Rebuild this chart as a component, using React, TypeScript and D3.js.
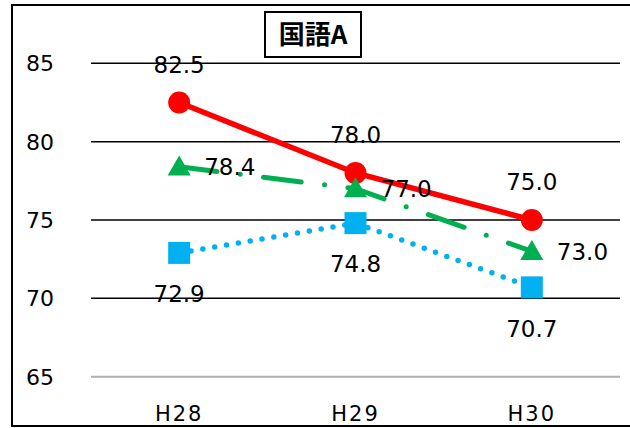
import React from "react";
import * as d3 from "d3";

const categories = ["H28", "H29", "H30"];
const redValues = [82.5, 78.0, 75.0];
const greenValues = [78.4, 77.0, 73.0];
const blueValues = [72.9, 74.8, 70.7];
const yTicks = [65, 70, 75, 80, 85];
const title = "国語A";

const W = 630;
const H = 428;
const FONT = "'DejaVu Sans', 'Noto Sans', sans-serif";
const CJK = "'Noto Sans CJK JP', sans-serif";

export default function App() {
  const x = d3.scaleBand<string>().domain(categories).range([91, 620]);
  const y = d3.scaleLinear().domain([65, 85]).range([376.7, 63.3]);
  const cx = (c: string) => (x(c) as number) + x.bandwidth() / 2;
  const line = d3
    .line<number>()
    .x((_, i) => cx(categories[i]))
    .y((v) => y(v));

  const tri = d3.symbol().type(d3.symbolTriangle).size(230)();

  return (
    <svg
      width={W}
      height={H}
      style={{ position: "absolute", left: 0, top: 0, background: "#fff" }}
      fontFamily={FONT}
    >
      <rect x={0} y={0} width={W} height={H} fill="#fff" />
      <rect x={12} y={5} width={W} height={421} fill="none" stroke="#000" strokeWidth={2} />

      {yTicks.map((t) => (
        <g key={t}>
          <line
            x1={91}
            x2={620}
            y1={y(t)}
            y2={y(t)}
            stroke={t === 65 ? "#b0b0b0" : "#000"}
            strokeWidth={t === 65 ? 2 : 1.5}
          />
          <text x={40} y={y(t)} dy="0.36em" textAnchor="middle" fontSize={22} fill="#000">
            {t}
          </text>
        </g>
      ))}

      {categories.map((c) => (
        <text key={c} x={cx(c)} y={421} textAnchor="middle" fontSize={21} letterSpacing={2} fill="#000">
          {c}
        </text>
      ))}

      <rect x={265} y={12} width={96} height={45} fill="#fff" stroke="#000" strokeWidth={2} />
      <text x={313} y={35} dy="0.36em" textAnchor="middle" fontSize={26} fontWeight="bold" fill="#000" fontFamily={CJK}>
        {title}
      </text>

      <path d={line(redValues) || ""} fill="none" stroke="#ff0000" strokeWidth={5.5} />
      {redValues.map((v, i) => (
        <circle key={i} cx={cx(categories[i])} cy={y(v)} r={11} fill="#ff0000" />
      ))}

      <path
        d={line(greenValues) || ""}
        fill="none"
        stroke="#00b050"
        strokeWidth={5}
        strokeLinecap="round"
        strokeDasharray="38 23.5 0 23.5"
      />
      {greenValues.map((v, i) => (
        <path
          key={i}
          d={tri || ""}
          transform={`translate(${cx(categories[i])},${y(v) + 2})`}
          fill="#00b050"
        />
      ))}

      <path
        d={line(blueValues) || ""}
        fill="none"
        stroke="#00b0f0"
        strokeWidth={5.5}
        strokeLinecap="round"
        strokeDasharray="0 12"
      />
      {blueValues.map((v, i) => (
        <rect
          key={i}
          x={cx(categories[i]) - 11}
          y={y(v) - 11}
          width={22}
          height={22}
          fill="#00b0f0"
        />
      ))}

      {redValues.map((v, i) => (
        <text key={"r" + i} x={cx(categories[i])} y={y(v) - 38} dy="0.36em" textAnchor="middle" fontSize={23} fill="#000">
          {v.toFixed(1)}
        </text>
      ))}
      {greenValues.map((v, i) => (
        <text key={"g" + i} x={cx(categories[i]) + 25} y={y(v)} dy="0.36em" textAnchor="start" fontSize={23} fill="#000">
          {v.toFixed(1)}
        </text>
      ))}
      {blueValues.map((v, i) => (
        <text key={"b" + i} x={cx(categories[i])} y={y(v) + 41} dy="0.36em" textAnchor="middle" fontSize={23} fill="#000">
          {v.toFixed(1)}
        </text>
      ))}
    </svg>
  );
}
